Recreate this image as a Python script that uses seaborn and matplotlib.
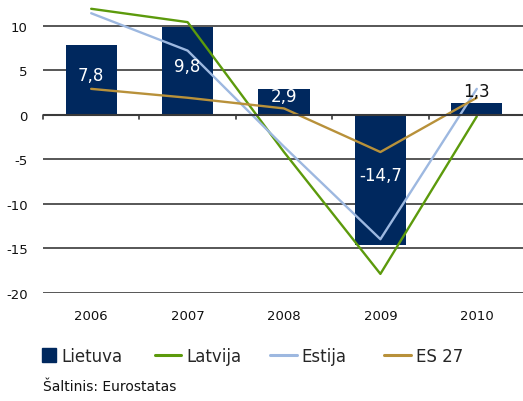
import matplotlib
matplotlib.use("Agg")
import matplotlib.pyplot as plt
from matplotlib.lines import Line2D
import seaborn as sns
import pandas as pd
import numpy as np

sns.set_theme(style="white")
plt.rcParams['font.family'] = ['DejaVu Sans']

# data
years = ['2006', '2007', '2008', '2009', '2010']
lietuva = [7.8, 9.8, 2.9, -14.7, 1.3]
latvija = [11.9, 10.4, -4.2, -17.9, -0.2]
estija = [11.4, 7.2, -3.6, -14.0, 2.9]
es27 = [2.9, 1.9, 0.7, -4.2, 1.9]
series_names = ['Lietuva', 'Latvija', 'Estija', 'ES 27']

navy = '#00285e'
green = '#5c9a0c'
lblue = '#9db8e0'
gold = '#b8913a'
grid = '#3a3a3a'

fig = plt.figure(figsize=(5.23, 4.02), dpi=100)
ax = fig.add_axes([0.0822, 0.2697, 0.9216, 0.7303])

bars = pd.DataFrame({'year': years, 'value': lietuva})
sns.barplot(data=bars, x='year', y='value', color=navy, saturation=1, width=0.53,
            linewidth=0, edgecolor=navy, ax=ax, zorder=2)

idx = np.arange(len(years))
for vals, c in [(latvija, green), (estija, lblue), (es27, gold)]:
    df = pd.DataFrame({'x': idx, 'y': vals})
    sns.lineplot(data=df, x='x', y='y', color=c, lw=1.7, ax=ax, zorder=3)

ax.set_xlim(-0.5, 4.5)
ax.set_ylim(-20, 13)
ax.set_yticks([-20, -15, -10, -5, 0, 5, 10])
ax.set_yticklabels(['-20', '-15', '-10', '-5', '0', '5', '10'], fontsize=9.5, color='#111111')
ax.set_xticks(idx)
ax.set_xticklabels(years, fontsize=9.5, color='#111111')
ax.tick_params(axis='both', length=0)
ax.tick_params(axis='y', pad=11)
ax.tick_params(axis='x', pad=12)
ax.set_xlabel('')
ax.set_ylabel('')
for s in ax.spines.values():
    s.set_visible(False)
for v in [-20, -15, -10, -5, 5, 10]:
    ax.axhline(v, color=grid, lw=1.2, zorder=1)
ax.axhline(0, color=grid, lw=1.5, zorder=4)
# category tick marks on the zero line
for b in np.arange(-0.5, 4.6, 1.0):
    ax.plot([b, b], [0, -0.45], color=grid, lw=1.2, zorder=4, clip_on=False)

# bar value labels
for i, v in enumerate(lietuva):
    lab = f'{v:.1f}'.replace('.', ',')
    if abs(v) < 2:
        ax.text(i, v + 0.3, lab, ha='center', va='bottom', color='#111111', fontsize=12, zorder=5)
    else:
        ax.text(i, v / 2 + 0.6, lab, ha='center', va='center', color='white', fontsize=12, zorder=5)

# legend: Excel style, equal-width slots
handles = [Line2D([0], [0], color=navy, marker='s', markersize=10, linestyle='none'),
           Line2D([0], [0], color=green, lw=2.2),
           Line2D([0], [0], color=lblue, lw=2.2),
           Line2D([0], [0], color=gold, lw=2.2)]
slots = [0.080, 0.296, 0.516, 0.734]
for h, name, x0 in zip(handles, series_names, slots):
    hl = 0.85 if name == 'Lietuva' else 1.6
    leg = fig.legend([h], [name], loc='center left', bbox_to_anchor=(x0, 0.112),
                     frameon=False, fontsize=12, handlelength=hl, handletextpad=0.3,
                     borderpad=0, borderaxespad=0)

fig.text(0.082, 0.028, 'Šaltinis: Eurostatas', fontsize=10, color='#111111')

fig.savefig('out.png', dpi=100)
